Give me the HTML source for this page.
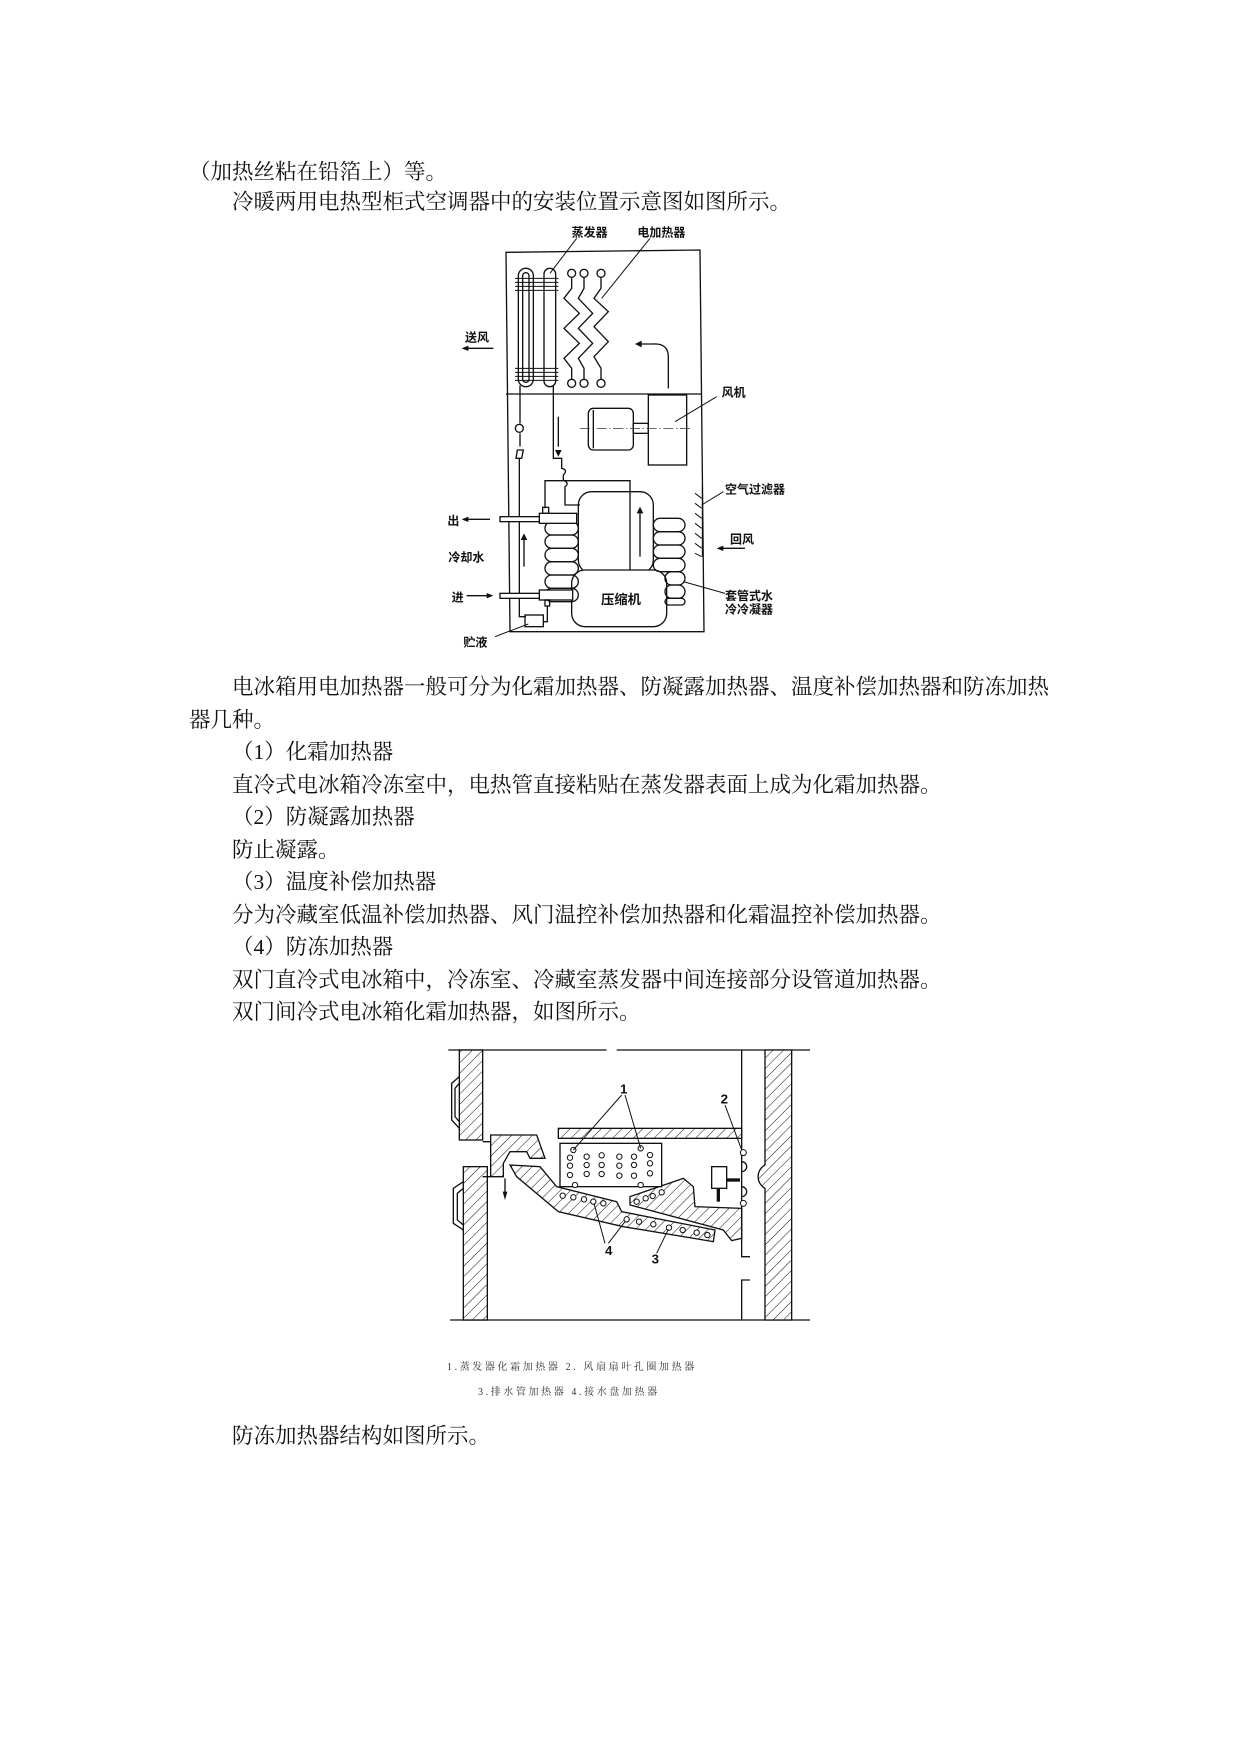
<!DOCTYPE html>
<html><head><meta charset="utf-8">
<style>
html,body{margin:0;padding:0;background:#fff;}
body{width:1241px;height:1754px;position:relative;overflow:hidden;}
.t{position:absolute;font-family:"Liberation Serif","Noto Serif CJK SC",serif;font-size:21.5px;line-height:26px;color:#111;white-space:nowrap;}
.c{position:absolute;font-family:"Liberation Serif","Noto Serif CJK SC",serif;font-size:10px;letter-spacing:2.6px;color:#333;white-space:nowrap;}
svg{position:absolute;}
svg text{font-family:"Liberation Sans","Noto Sans CJK SC",sans-serif;font-weight:bold;fill:#111;}
</style></head><body>
<div class="t" style="left:189px;top:159px">（加热丝粘在铅箔上）等。</div>
<div class="t" style="left:232px;top:189px">冷暖两用电热型柜式空调器中的安装位置示意图如图所示。</div>

<div class="t" style="left:232px;top:674px">电冰箱用电加热器一般可分为化霜加热器、防凝露加热器、温度补偿加热器和防冻加热</div>
<div class="t" style="left:189px;top:707px">器几种。</div>
<div class="t" style="left:232px;top:739px">（1）化霜加热器</div>
<div class="t" style="left:232px;top:772px">直冷式电冰箱冷冻室中，电热管直接粘贴在蒸发器表面上成为化霜加热器。</div>
<div class="t" style="left:232px;top:804px">（2）防凝露加热器</div>
<div class="t" style="left:232px;top:837px">防止凝露。</div>
<div class="t" style="left:232px;top:869px">（3）温度补偿加热器</div>
<div class="t" style="left:232px;top:902px">分为冷藏室低温补偿加热器、风门温控补偿加热器和化霜温控补偿加热器。</div>
<div class="t" style="left:232px;top:934px">（4）防冻加热器</div>
<div class="t" style="left:232px;top:967px">双门直冷式电冰箱中，冷冻室、冷藏室蒸发器中间连接部分设管道加热器。</div>
<div class="t" style="left:232px;top:999px">双门间冷式电冰箱化霜加热器，如图所示。</div>

<div class="c" style="left:447px;top:1358px">1.蒸发器化霜加热器 2. 风扇扇叶孔圈加热器</div>
<div class="c" style="left:478px;top:1383px">3.排水管加热器 4.接水盘加热器</div>
<div class="t" style="left:232px;top:1423px">防冻加热器结构如图所示。</div>

<!-- Diagram 1 -->
<svg style="left:420px;top:220px" width="420" height="440" viewBox="0 0 1260 1320">
<g fill="none" stroke="#111" stroke-width="4">
<path d="M258 97 L840 90 L852 1235 L270 1235 Z"/>
<line x1="258" y1="522" x2="845" y2="522"/>
<rect x="295" y="145" width="45" height="355" rx="22"/>
<rect x="308" y="158" width="19" height="329" rx="9"/>
<rect x="372" y="145" width="35" height="355" rx="17"/>
<path d="M285 175H415M285 187H415M285 199H415M285 211H415M285 445H415M285 457H415M285 469H415M285 481H415" stroke-width="3"/>
<circle cx="455" cy="160" r="12"/><circle cx="492" cy="160" r="12"/><circle cx="543" cy="160" r="12"/>
<circle cx="455" cy="490" r="12"/><circle cx="492" cy="490" r="12"/><circle cx="543" cy="490" r="12"/>
<path d="M455 172 V205 L432 235 L478 280 L432 325 L478 370 L432 415 L455 445 V478"/>
<path d="M492 172 V205 L475 235 L518 280 L475 325 L518 370 L475 415 L492 445 V478"/>
<path d="M543 172 V205 L522 235 L565 275 L522 320 L565 365 L522 410 L543 445 V478"/>
<path d="M745 505 V410 Q745 370 700 372 L660 372"/>
<rect x="505" y="565" width="135" height="125" rx="15"/>
<line x1="520" y1="570" x2="520" y2="685"/>
<rect x="640" y="610" width="45" height="30"/>
<rect x="685" y="525" width="115" height="210"/>
<line x1="480" y1="625" x2="815" y2="625" stroke-width="2" stroke-dasharray="30 8 4 8"/>
<line x1="890" y1="530" x2="765" y2="605" stroke-width="3"/>
<path d="M300 497 V610 M300 640 V680 M292 690 H310 L305 715 H288 Z M298 715 V1190 H318"/>
<ellipse cx="298" cy="625" rx="12" ry="12"/>
<path d="M400 497 V715 H425 V745 Q445 750 430 765 V780 Q450 790 435 800 V855 H480"/>
<path d="M375 865 V782 H630 V1050"/>
<rect x="475" y="815" width="225" height="245" rx="40"/>
<rect x="455" y="1050" width="285" height="170" rx="40" fill="#fff"/>
<g>
<rect x="375" y="905" width="100" height="40" rx="20"/><rect x="375" y="945" width="100" height="40" rx="20"/>
<rect x="375" y="985" width="100" height="40" rx="20"/><rect x="375" y="1025" width="100" height="40" rx="20"/>
<rect x="375" y="1065" width="100" height="40" rx="20"/><rect x="375" y="1105" width="100" height="40" rx="20"/>
<rect x="700" y="895" width="95" height="40" rx="20"/><rect x="700" y="935" width="95" height="40" rx="20"/>
<rect x="700" y="975" width="95" height="40" rx="20"/><rect x="700" y="1015" width="95" height="40" rx="20"/>
<rect x="735" y="1055" width="60" height="40" rx="20"/><rect x="735" y="1095" width="60" height="40" rx="20"/>
<rect x="735" y="1135" width="60" height="20" rx="10"/>
</g>
<rect x="240" y="890" width="120" height="15" fill="#fff"/>
<rect x="358" y="880" width="112" height="30" fill="#fff"/>
<rect x="368" y="862" width="18" height="18"/>
<rect x="240" y="1120" width="120" height="15" fill="#fff"/>
<rect x="358" y="1110" width="100" height="30" fill="#fff"/>
<rect x="375" y="1140" width="14" height="18"/>
<path d="M382 1158 V1205 H370"/>
<rect x="315" y="1185" width="55" height="35"/>
<line x1="415" y1="590" x2="415" y2="680"/>
<line x1="660" y1="1010" x2="660" y2="875"/>
<line x1="312" y1="1040" x2="312" y2="955"/>
<path d="M825 820 L845 835 M825 850 L845 865 M825 880 L845 895 M825 910 L845 925 M825 940 L845 955 M825 970 L845 985 M825 1000 L845 1010 M847 800 V1010" stroke-width="3"/>
<line x1="130" y1="385" x2="220" y2="385"/>
<line x1="130" y1="898" x2="210" y2="898"/>
<line x1="140" y1="1127" x2="215" y2="1127"/>
<line x1="975" y1="985" x2="895" y2="985"/>
<g stroke-width="3">
<line x1="470" y1="55" x2="390" y2="160"/>
<line x1="690" y1="55" x2="545" y2="235"/>
<line x1="910" y1="815" x2="845" y2="855"/>
<line x1="915" y1="1120" x2="790" y2="1085"/>
<line x1="225" y1="1250" x2="325" y2="1212"/>
</g>
</g>
<g fill="#111">
<path d="M405 690 L415 710 L425 690 Z"/>
<path d="M650 880 L660 860 L670 880 Z"/>
<path d="M302 960 L312 940 L322 960 Z"/>
<path d="M665 362 L645 372 L665 382 Z"/>
<path d="M145 377 L125 385 L145 393 Z"/>
<path d="M145 890 L125 898 L145 906 Z"/>
<path d="M200 1119 L220 1127 L200 1135 Z"/>
<path d="M910 977 L890 985 L910 993 Z"/>
</g>
<g font-size="36">
<text x="455" y="50">蒸发器</text>
<text x="652" y="50">电加热器</text>
<text x="135" y="365">送风</text>
<text x="905" y="530">风机</text>
<text x="915" y="820">空气过滤器</text>
<text x="930" y="970">回风</text>
<text x="82" y="915">出</text>
<text x="85" y="1025">冷却水</text>
<text x="95" y="1145">进</text>
<text x="130" y="1280">贮液</text>
<text x="915" y="1140">套管式水</text>
<text x="915" y="1180">冷冷凝器</text>
<text x="543" y="1152" font-weight="normal" font-size="40">压缩机</text>
</g>
</svg>

<!-- Diagram 2 -->
<svg style="left:430px;top:1030px" width="400" height="380" viewBox="0 0 1200 1140">
<defs>
<pattern id="h" width="22" height="22" patternUnits="userSpaceOnUse" patternTransform="rotate(45)">
<rect width="22" height="22" fill="#fff"/><line x1="0" y1="0" x2="0" y2="22" stroke="#111" stroke-width="3"/>
</pattern>
</defs>
<g fill="none" stroke="#111" stroke-width="4">
<line x1="55" y1="60" x2="530" y2="60"/><line x1="560" y1="60" x2="1140" y2="60"/>
<line x1="60" y1="870" x2="1140" y2="870"/>
<rect x="88" y="60" width="70" height="270" fill="url(#h)"/>
<rect x="100" y="410" width="72" height="460" fill="url(#h)"/>
<path d="M88 140 L65 160 V270 L88 295 M88 160 L75 175 V260 L88 275"/>
<path d="M100 455 L70 475 V580 L100 600 M100 475 L82 490 V570 L100 585"/>
<path d="M158 335 H182 V440 H158"/>
<path d="M182 315 H320 L345 385 L300 385 L290 365 H240 L220 400 V440 H182 Z" fill="url(#h)"/>
<line x1="225" y1="445" x2="225" y2="500"/>
<path d="M240 405 L330 410 L380 470 L560 515 L575 545 L855 600 L850 635 L580 590 L385 545 L260 440 Z" fill="url(#h)"/>
<path d="M600 500 L760 445 L790 470 L795 530 L935 535 V625 L905 632 L880 600 L600 525 Z" fill="url(#h)"/>
<rect x="385" y="295" width="550" height="30" fill="url(#h)"/>
<rect x="390" y="340" width="305" height="130" fill="#fff"/>
<path d="M935 60 V680 H960 M935 870 V750 H960"/>
<path d="M1005 60 V405 A40 40 0 0 0 1005 475 V870 H1085 V60 Z" fill="url(#h)"/>
<rect x="845" y="410" width="45" height="65" fill="#fff"/>
<line x1="865" y1="475" x2="865" y2="515" stroke-width="10"/>
<line x1="890" y1="450" x2="930" y2="450" stroke-width="10"/>
<path d="M935 395 A14 14 0 0 1 935 425 M935 470 A14 14 0 0 1 935 500"/>
<g fill="#fff" stroke-width="3">
<circle cx="940" cy="368" r="9"/><circle cx="940" cy="520" r="9"/>
<circle cx="430" cy="360" r="8"/><circle cx="632" cy="355" r="8"/>
<circle cx="420" cy="383" r="8"/><circle cx="420" cy="407" r="8"/><circle cx="420" cy="435" r="8"/>
<circle cx="470" cy="380" r="8"/><circle cx="470" cy="405" r="8"/><circle cx="470" cy="432" r="8"/>
<circle cx="515" cy="376" r="8"/><circle cx="515" cy="405" r="8"/><circle cx="515" cy="432" r="8"/>
<circle cx="568" cy="380" r="8"/><circle cx="568" cy="407" r="8"/><circle cx="568" cy="437" r="8"/>
<circle cx="612" cy="380" r="8"/><circle cx="612" cy="405" r="8"/><circle cx="612" cy="437" r="8"/>
<circle cx="660" cy="375" r="8"/><circle cx="660" cy="400" r="8"/><circle cx="660" cy="430" r="8"/>
<circle cx="435" cy="465" r="8"/><circle cx="632" cy="465" r="8"/>
<circle cx="398" cy="497" r="8"/><circle cx="430" cy="502" r="8"/><circle cx="462" cy="508" r="8"/><circle cx="490" cy="515" r="8"/><circle cx="520" cy="520" r="8"/>
<circle cx="590" cy="568" r="8"/><circle cx="627" cy="575" r="8"/><circle cx="670" cy="583" r="8"/><circle cx="717" cy="593" r="8"/><circle cx="758" cy="600" r="8"/><circle cx="800" cy="608" r="8"/><circle cx="832" cy="615" r="8"/>
<circle cx="620" cy="515" r="8"/><circle cx="647" cy="505" r="8"/><circle cx="668" cy="498" r="8"/><circle cx="695" cy="487" r="8"/>
</g>
<g stroke-width="3">
<line x1="575" y1="195" x2="430" y2="360"/><line x1="585" y1="195" x2="632" y2="355"/>
<line x1="885" y1="225" x2="935" y2="360"/>
<line x1="525" y1="640" x2="492" y2="520"/><line x1="535" y1="640" x2="585" y2="575"/>
<line x1="680" y1="670" x2="715" y2="598"/>
</g>
</g>
<path d="M218 485 L225 510 L232 485 Z" fill="#111"/>
<g font-family="Liberation Serif,serif" font-size="40" fill="#111">
<text x="570" y="190">1</text><text x="872" y="220">2</text>
<text x="525" y="675">4</text><text x="665" y="700">3</text>
</g>
</svg>
</body></html>
